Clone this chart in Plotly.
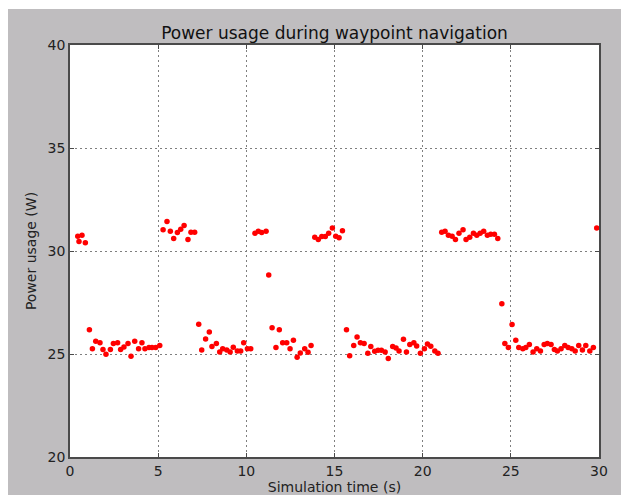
import plotly.graph_objects as go

time_s = [0.44, 0.51, 0.68, 0.87, 1.10, 1.27, 1.46, 1.70, 1.87, 2.04, 2.29, 2.46, 2.70, 2.87,
          3.06, 3.29, 3.46, 3.67, 3.89, 4.08, 4.25, 4.48, 4.65, 4.86, 5.09, 5.28, 5.50, 5.69,
          5.88, 6.09, 6.28, 6.47, 6.69, 6.86, 7.07, 7.30, 7.47, 7.69, 7.90, 8.05, 8.30, 8.49,
          8.66, 8.89, 9.08, 9.26, 9.49, 9.68, 9.85, 10.06, 10.25, 10.49, 10.68, 10.87, 11.12,
          11.27, 11.46, 11.68, 11.87, 12.06, 12.29, 12.48, 12.67, 12.88, 13.06, 13.31, 13.50,
          13.67, 13.88, 14.08, 14.28, 14.48, 14.67, 14.88, 15.07, 15.26, 15.45, 15.68, 15.86,
          16.09, 16.28, 16.47, 16.68, 16.89, 17.06, 17.28, 17.47, 17.66, 17.87, 18.05, 18.30,
          18.49, 18.66, 18.91, 19.08, 19.27, 19.50, 19.66, 19.87, 20.10, 20.27, 20.46, 20.69,
          20.87, 21.08, 21.27, 21.46, 21.67, 21.86, 22.06, 22.29, 22.46, 22.67, 22.88, 23.07,
          23.26, 23.46, 23.67, 23.86, 24.07, 24.26, 24.49, 24.66, 24.86, 25.07, 25.28, 25.45,
          25.68, 25.85, 26.05, 26.26, 26.47, 26.68, 26.89, 27.07, 27.28, 27.47, 27.64, 27.85,
          28.06, 28.25, 28.46, 28.65, 28.85, 29.06, 29.25, 29.48, 29.68, 29.87]

power_w = [30.72, 30.46, 30.77, 30.40, 26.18, 25.25, 25.62, 25.55, 25.22, 24.99, 25.22, 25.51,
           25.55, 25.22, 25.34, 25.51, 24.89, 25.62, 25.25, 25.55, 25.25, 25.31, 25.31, 25.31,
           25.41, 31.03, 31.43, 30.96, 30.61, 30.90, 31.06, 31.24, 30.56, 30.91, 30.91, 26.44,
           25.20, 25.73, 26.07, 25.36, 25.51, 25.10, 25.26, 25.20, 25.10, 25.33, 25.15, 25.15,
           25.55, 25.26, 25.26, 30.86, 30.96, 30.90, 30.96, 28.83, 26.28, 25.31, 26.18, 25.55,
           25.55, 25.25, 25.67, 24.84, 25.05, 25.25, 25.08, 25.41, 30.67, 30.56, 30.70, 30.70,
           30.86, 31.12, 30.72, 30.64, 30.98, 26.18, 24.91, 25.41, 25.83, 25.55, 25.51, 25.04,
           25.36, 25.13, 25.18, 25.18, 25.10, 24.78, 25.36, 25.29, 25.15, 25.71, 25.10, 25.46,
           25.55, 25.39, 25.04, 25.25, 25.49, 25.38, 25.15, 25.04, 30.91, 30.96, 30.77, 30.72,
           30.56, 30.86, 31.03, 30.56, 30.67, 30.86, 30.77, 30.86, 30.96, 30.77, 30.81, 30.81,
           30.61, 27.44, 25.51, 25.31, 26.43, 25.67, 25.31, 25.26, 25.31, 25.46, 25.10, 25.26,
           25.15, 25.46, 25.51, 25.46, 25.22, 25.15, 25.26, 25.41, 25.31, 25.26, 25.15, 25.41,
           25.20, 25.41, 25.15, 25.31, 31.12]

x_ticks = [0, 5, 10, 15, 20, 25, 30]
y_ticks = [20, 25, 30, 35, 40]

W, H = 621, 495
ML, MR, MT, MB = 70, 22, 45, 38
pw, ph = W - ML - MR, H - MT - MB

fig = go.Figure()
fig.add_trace(go.Scatter(
    x=time_s, y=power_w, mode="markers",
    marker=dict(color="#ff0000", size=5.5, line=dict(width=0)),
    cliponaxis=False, showlegend=False,
))

font = "DejaVu Sans, sans-serif"
axis_common = dict(
    showline=True, mirror="allticks", linecolor="#4a4a4a", linewidth=1.6,
    ticks="inside", ticklen=4, tickcolor="#4a4a4a",
    showgrid=True, gridcolor="#7f7f7f", griddash="2px,3px", gridwidth=1,
    zeroline=False, automargin=False,
    tickfont=dict(family=font, size=14, color="#222222"),
)

fig.update_xaxes(range=[0, 30], tickvals=x_ticks,
                 title=dict(text="Simulation time (s)", font=dict(family=font, size=14, color="#222222"), standoff=4),
                 **axis_common)
fig.update_yaxes(range=[20, 40], tickvals=y_ticks,
                 title=dict(text="Power usage (W)", font=dict(family=font, size=14, color="#222222"), standoff=8),
                 **axis_common)

# white strips at top and left of the screenshot
shapes = [
    dict(type="rect", xref="paper", yref="paper", layer="above",
         x0=-ML / pw, x1=(8 - ML) / pw, y0=-MB / ph, y1=(H - MT + 5) / ph,
         fillcolor="#ffffff", line=dict(width=0)),
    dict(type="rect", xref="paper", yref="paper", layer="above",
         x0=-ML / pw, x1=(W - ML) / pw, y0=(H - MB - 9) / ph, y1=(H - MB) / ph,
         fillcolor="#ffffff", line=dict(width=0)),
]

fig.update_layout(
    width=W, height=H,
    margin=dict(l=ML, r=MR, t=MT, b=MB),
    paper_bgcolor="#bfbdbf", plot_bgcolor="#ffffff",
    title=dict(text="Power usage during waypoint navigation", x=(ML + pw / 2) / W, xanchor="center",
               y=1 - 33 / H, yanchor="middle", font=dict(family=font, size=17, color="#111111")),
    shapes=shapes,
)

fig.write_html("out.html")
